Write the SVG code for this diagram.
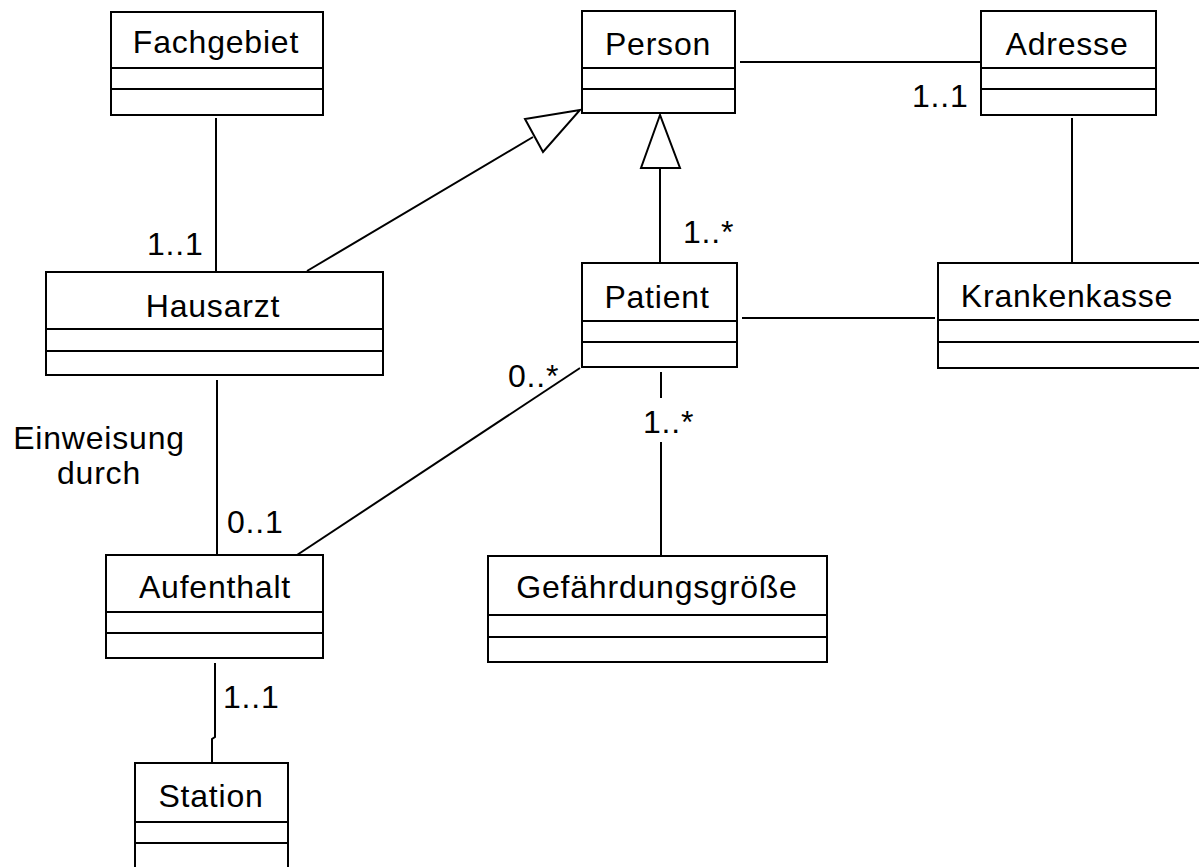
<svg xmlns="http://www.w3.org/2000/svg" width="1199" height="867" viewBox="0 0 1199 867">
<style>
.box{fill:#fff;stroke:#000;stroke-width:2}
.sep{stroke:#000;stroke-width:2}
.ln{fill:none;stroke:#000;stroke-width:2}
.tri{fill:#fff;stroke:#000;stroke-width:2;stroke-linejoin:miter}
text{font-family:"Liberation Sans",Arial,sans-serif;font-size:32px;letter-spacing:0.8px;fill:#000}
.c{text-anchor:middle}
</style>
<rect width="1199" height="867" fill="#fff"/>
<g id="connectors">
<path class="ln" d="M216 118 V272"/>
<path class="ln" d="M217 380 V555"/>
<path class="ln" d="M215 663 V737 L212 739 V763"/>
<path class="ln" d="M297 555 L580 368"/>
<path class="ln" d="M661 372 V398 M661 442 V556"/>
<path class="ln" d="M660 263 V168"/>
<polygon class="tri" points="660,115 641,168 680,168"/>
<path class="ln" d="M307 271 L533 137"/>
<polygon class="tri" points="580,110 525,119 543,152"/>
<path class="ln" d="M740 62 H981"/>
<path class="ln" d="M1072 118 V263"/>
<path class="ln" d="M742 318 H935"/>
</g>
<g id="Fachgebiet">
<rect class="box" x="111" y="12" width="212" height="103"/>
<path class="sep" d="M111 68 H323 M111 89 H323"/>
<text class="c" x="216" y="53">Fachgebiet</text>
</g>
<g id="Person">
<rect class="box" x="582" y="11" width="153" height="102"/>
<path class="sep" d="M582 68 H735 M582 89 H735"/>
<text class="c" x="658" y="55">Person</text>
</g>
<g id="Adresse">
<rect class="box" x="981" y="11" width="175" height="104"/>
<path class="sep" d="M981 68 H1156 M981 89 H1156"/>
<text class="c" x="1067" y="55">Adresse</text>
</g>
<g id="Hausarzt">
<rect class="box" x="46" y="272" width="337" height="103"/>
<path class="sep" d="M46 329 H383 M46 351 H383"/>
<text class="c" x="213" y="317">Hausarzt</text>
</g>
<g id="Patient">
<rect class="box" x="582" y="263" width="155" height="104"/>
<path class="sep" d="M582 321 H737 M582 342 H737"/>
<text class="c" x="657" y="308">Patient</text>
</g>
<g id="Krankenkasse">
<rect class="box" x="938" y="263" width="263" height="105"/>
<path class="sep" d="M938 320 H1201 M938 342 H1201"/>
<text class="c" x="1067" y="307">Krankenkasse</text>
</g>
<g id="Aufenthalt">
<rect class="box" x="106" y="555" width="217" height="103"/>
<path class="sep" d="M106 612 H323 M106 633 H323"/>
<text class="c" x="215" y="598">Aufenthalt</text>
</g>
<g id="Gefaehrdungsgroesse">
<rect class="box" x="488" y="556" width="339" height="106"/>
<path class="sep" d="M488 615 H827 M488 637 H827"/>
<text class="c" x="657" y="598">Gefährdungsgröße</text>
</g>
<g id="Station">
<rect class="box" x="135" y="763" width="153" height="107"/>
<path class="sep" d="M135 822 H288 M135 843 H288"/>
<text class="c" x="211" y="807">Station</text>
</g>
<g id="labels">
<text x="147" y="255">1..1</text>
<text x="912" y="107">1..1</text>
<text x="683" y="243">1..*</text>
<text x="508" y="387">0..*</text>
<text x="643" y="433">1..*</text>
<text x="227" y="533">0..1</text>
<text x="223" y="708">1..1</text>
<text class="c" x="99" y="449">Einweisung</text>
<text class="c" x="99" y="484">durch</text>
</g>
</svg>
